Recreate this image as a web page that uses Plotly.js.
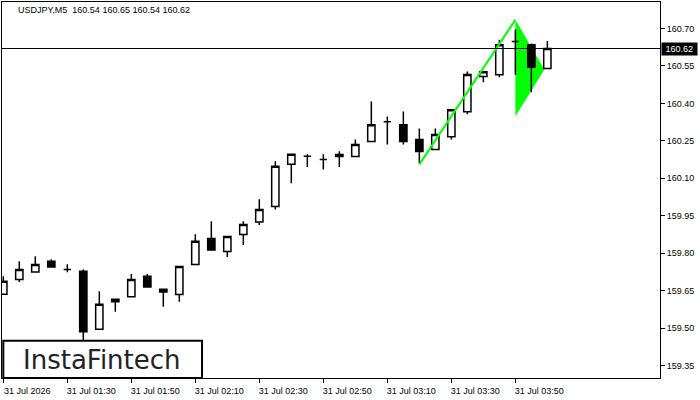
<!DOCTYPE html>
<html>
<head>
<meta charset="utf-8">
<script src="https://cdn.plot.ly/plotly-3.0.1.min.js"></script>
<style>html,body{margin:0;padding:0;background:#fff;}#chart{width:700px;height:400px;}</style>
</head>
<body>
<div id="chart"></div>
<script>
// ---- data ----
const symbolTitle = 'USDJPY,M5';
const barIndex = [0,1,2,3,4,5,6,7,8,9,10,11,12,13,14,15,16,17,18,19,20,21,22,23,24,25,26,27,28,29,30,31,32,33,34];
const openP  = [159.636,159.695,159.725,159.768,159.735,159.728,159.495,159.605,159.625,159.708,159.656,159.635,159.755,159.859,159.807,159.875,159.925,159.987,160.156,160.188,160.175,160.187,160.187,160.247,160.327,160.315,160.255,160.215,160.266,160.367,160.508,160.515,160.648,160.635,160.54];
const highP  = [159.708,159.768,159.788,159.776,159.756,159.735,159.648,159.615,159.717,159.717,159.656,159.747,159.876,159.928,159.867,159.928,160.016,160.168,160.196,160.196,160.196,160.208,160.255,160.408,160.348,160.368,160.300,160.300,160.375,160.528,160.527,160.655,160.696,160.640,160.65];
const lowP   = [159.636,159.685,159.725,159.745,159.724,159.452,159.495,159.565,159.625,159.665,159.585,159.605,159.755,159.813,159.785,159.833,159.913,159.975,160.080,160.145,160.135,160.145,160.187,160.247,160.235,160.235,160.159,160.215,160.255,160.357,160.485,160.505,160.515,160.445,160.54];
const closeP = [159.688,159.735,159.755,159.745,159.735,159.485,159.595,159.615,159.695,159.665,159.645,159.747,159.848,159.813,159.867,159.915,159.975,160.148,160.196,160.188,160.175,160.195,160.235,160.315,160.327,160.247,160.207,160.275,160.375,160.516,160.527,160.635,160.648,160.545,160.62];
const tickIdx = [0,4,8,12,16,20,24,28,32];
const tickLabels = ['31 Jul 2026','31 Jul 01:30','31 Jul 01:50','31 Jul 02:10','31 Jul 02:30','31 Jul 02:50','31 Jul 03:10','31 Jul 03:30','31 Jul 03:50'];
const priceTicks = [159.35,159.50,159.65,159.80,159.95,160.10,160.25,160.40,160.55,160.70];
// bullish pennant pattern
const poleX = [26, 32];
const poleY = [160.156, 160.735];
const flagX = [32, 33.81, 32];
const flagY = [160.735, 160.536, 160.348];
const logoText = 'InstaFintech';

// ---- chart ----
const last = closeP.length - 1;
const fmt = v => v.toFixed(2);
const headline = symbolTitle + '\u00a0\u00a0' + [openP[last], highP[last], lowP[last], closeP[last]].map(fmt).join(' ');

const flagPath = 'M ' + flagX.map((x, i) => x + ',' + flagY[i]).join(' L ') + ' Z';

const traces = [
  {
    type: 'candlestick',
    x: barIndex, open: openP, high: highP, low: lowP, close: closeP,
    increasing: {line: {color: '#000', width: 1.5}, fillcolor: '#ffffff'},
    decreasing: {line: {color: '#000', width: 1.5}, fillcolor: '#000000'},
    whiskerwidth: 0,
    hoverinfo: 'skip',
    showlegend: false
  },
  {
    type: 'scatter', mode: 'lines',
    x: poleX, y: poleY,
    line: {color: '#00ff00', width: 2},
    hoverinfo: 'skip', showlegend: false
  }
];

const axFont = {family: 'Liberation Sans, Arial, sans-serif', size: 9, color: '#000'};

const layout = {
  width: 700, height: 400,
  margin: {l: 2, r: 40, t: 2, b: 22, pad: 0},
  paper_bgcolor: '#fff', plot_bgcolor: '#fff',
  boxgap: 0.35,
  showlegend: false,
  xaxis: {
    type: 'linear',
    range: [-0.081, 41.04],
    rangeslider: {visible: false},
    showgrid: false, zeroline: false,
    showline: true, linecolor: '#000', linewidth: 1, mirror: true,
    ticks: 'outside', ticklen: 4, tickcolor: '#000', tickwidth: 1,
    tickvals: tickIdx, ticktext: tickLabels,
    ticklabelshift: 24,
    tickfont: axFont,
    fixedrange: true
  },
  yaxis: {
    side: 'right',
    range: [159.30, 160.8063],
    showgrid: false, zeroline: false,
    showline: true, linecolor: '#000', linewidth: 1, mirror: true,
    ticks: 'outside', ticklen: 4, tickcolor: '#000', tickwidth: 1,
    tickvals: priceTicks, ticktext: priceTicks.map(fmt),
    tickfont: axFont,
    fixedrange: true
  },
  shapes: [
    {type: 'path', xref: 'x', yref: 'y', path: flagPath, fillcolor: '#00ff00', line: {width: 0}, layer: 'below'},
    {type: 'line', xref: 'paper', yref: 'y', x0: 0, x1: 1, y0: closeP[last], y1: closeP[last], line: {color: '#000', width: 1}, layer: 'above'},
    {type: 'rect', xref: 'paper', yref: 'paper', x0: 0.002, x1: 0.304, y0: 0.0, y1: 0.099, fillcolor: '#fff', line: {color: '#000', width: 2}, layer: 'above'}
  ],
  annotations: [
    {xref: 'paper', yref: 'paper', x: 0.022, y: 0.9787, xanchor: 'left', yanchor: 'middle', showarrow: false,
     text: headline, font: axFont},
    {xref: 'paper', yref: 'y', x: 1, y: closeP[last], xanchor: 'left', yanchor: 'middle', xshift: 1, showarrow: false,
     text: '\u00a0' + fmt(closeP[last]) + '\u00a0', bgcolor: '#000', borderpad: 1,
     font: {family: 'Liberation Sans, Arial, sans-serif', size: 9, color: '#fff'}},
    {xref: 'paper', yref: 'paper', x: 0.152, y: 0.048, xanchor: 'center', yanchor: 'middle', showarrow: false,
     text: logoText, font: {family: 'DejaVu Sans, sans-serif', size: 26, color: '#222'}}
  ]
};

Plotly.newPlot('chart', traces, layout, {displayModeBar: false, staticPlot: true});
</script>
</body>
</html>
